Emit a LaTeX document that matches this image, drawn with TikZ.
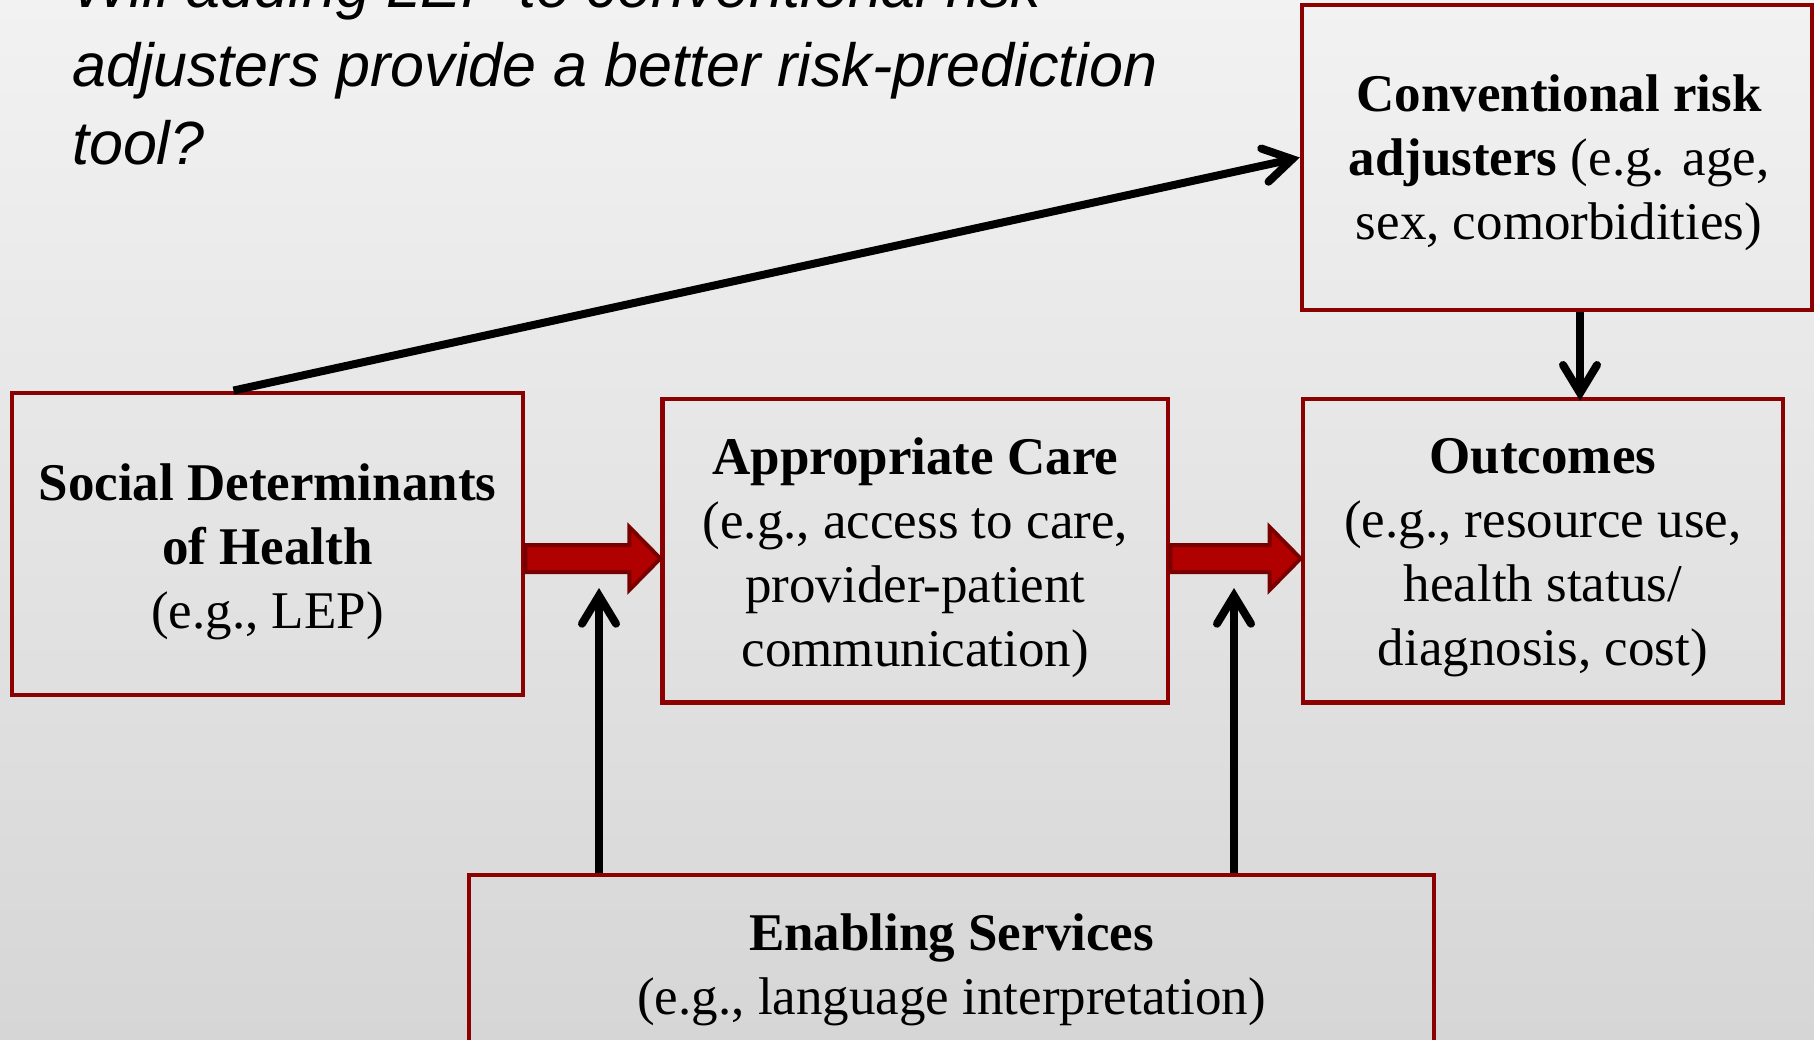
\documentclass[tikz,border=0pt]{standalone}
\usepackage{fontspec}
\setmainfont{Liberation Serif}
\newfontfamily\titlefont{Liberation Sans}
\usetikzlibrary{arrows.meta,calc}
\definecolor{boxred}{RGB}{139,0,0}
\definecolor{arrfill}{RGB}{176,0,0}
\definecolor{arrline}{RGB}{122,0,0}
\definecolor{bgtop}{RGB}{242,242,242}
\definecolor{bgbot}{RGB}{214,214,214}
\newcommand\ctrlines[1]{\vtop{\baselineskip=64pt\lineskiplimit=-100pt\halign{\hfil##\hfil\cr#1\crcr}}}
\begin{document}
\begin{tikzpicture}[x=1pt,y=-1pt,
  boxnode/.style={draw=boxred,line width=4.5pt,inner sep=0pt},
  txt/.style={font=\fontsize{53}{64}\selectfont,inner sep=0pt,anchor=base},
  blackarrow/.style={line width=8pt,-{Straight Barb[length=28pt,width=34pt,line cap=round,line join=miter]}},
  redarrow/.style={fill=arrfill,draw=arrline,line width=4pt,line join=miter}]
\useasboundingbox (0,0) rectangle (1814,1040);
\clip (0,0) rectangle (1814,1040);
\shade[top color=bgtop,bottom color=bgbot] (0,0) rectangle (1814,1040);

% title
\node[anchor=base west,inner sep=0pt,font=\titlefont\itshape\fontsize{61}{78.5}\selectfont] (title) at (72,8)
  {\vtop{\baselineskip=78.5pt\hbox{Will adding LEP to conventional risk}\hbox{adjusters provide a better risk-prediction}\hbox{tool?}}};

% boxes
\node[boxnode,minimum width=511,minimum height=302] (social) at (267.5,543.8) {};
\node[boxnode,minimum width=505.5,minimum height=303.7] (care) at (915.3,550.8) {};
\node[boxnode,minimum width=480,minimum height=303.7] (out) at (1542.8,550.8) {};
\node[boxnode,minimum width=510,minimum height=305] (conv) at (1557,157.5) {};
\node[boxnode,minimum width=965,minimum height=186] (enab) at (951.5,968) {};

% texts
\node[txt] (socialtxt) at (267.5,500) {\ctrlines{\textbf{Social Determinants}\cr\textbf{of Health}\cr(e.g., LEP)}};
\node[txt] (caretxt) at (915.3,474) {\ctrlines{\textbf{Appropriate Care}\cr(e.g., access to care,\cr provider-patient\cr communication)}};
\node[txt] (outtxt) at (1542.8,473) {\ctrlines{\textbf{Outcomes}\cr(e.g., resource use,\cr health status/\cr diagnosis, cost)}};
\node[txt] (convtxt) at (1559,112) {\ctrlines{\textbf{Conventional risk}\cr\textbf{adjusters} (e.g. age,\cr sex, comorbidities)}};
\node[txt] (enabtxt) at (951.5,950) {\ctrlines{\textbf{Enabling Services}\cr(e.g., language interpretation)}};

% coordinates
\coordinate (ra) at (0,558.5);
\coordinate (dstart) at ($(social.north west)!0.434!(social.north east)$);
\coordinate (dn) at (1580,0);
\coordinate (up1) at (599,588);
\coordinate (up2) at (1234,588);

% red arrows
\path[redarrow] ($(social.east |- ra)+(0,-13.5)$) -- ($(care.west |- ra)+(-31,-13.5)$) -- ++(0,-18)
  -- (care.west |- ra) -- ($(care.west |- ra)+(-31,31.5)$) -- ++(0,-18) -- ($(social.east |- ra)+(0,13.5)$) -- cycle;
\path[redarrow] ($(care.east |- ra)+(0,-13.5)$) -- ($(out.west |- ra)+(-31,-13.5)$) -- ++(0,-18)
  -- (out.west |- ra) -- ($(out.west |- ra)+(-31,31.5)$) -- ++(0,-18) -- ($(care.east |- ra)+(0,13.5)$) -- cycle;

% black arrows
\draw[blackarrow] (dstart) -- (conv.west);
\draw[blackarrow] (conv.south -| dn) -- ($(out.north -| dn)+(0,4)$);
\draw[blackarrow] (enab.north -| up1) -- (up1);
\draw[blackarrow] (enab.north -| up2) -- (up2);
\end{tikzpicture}
\end{document}
